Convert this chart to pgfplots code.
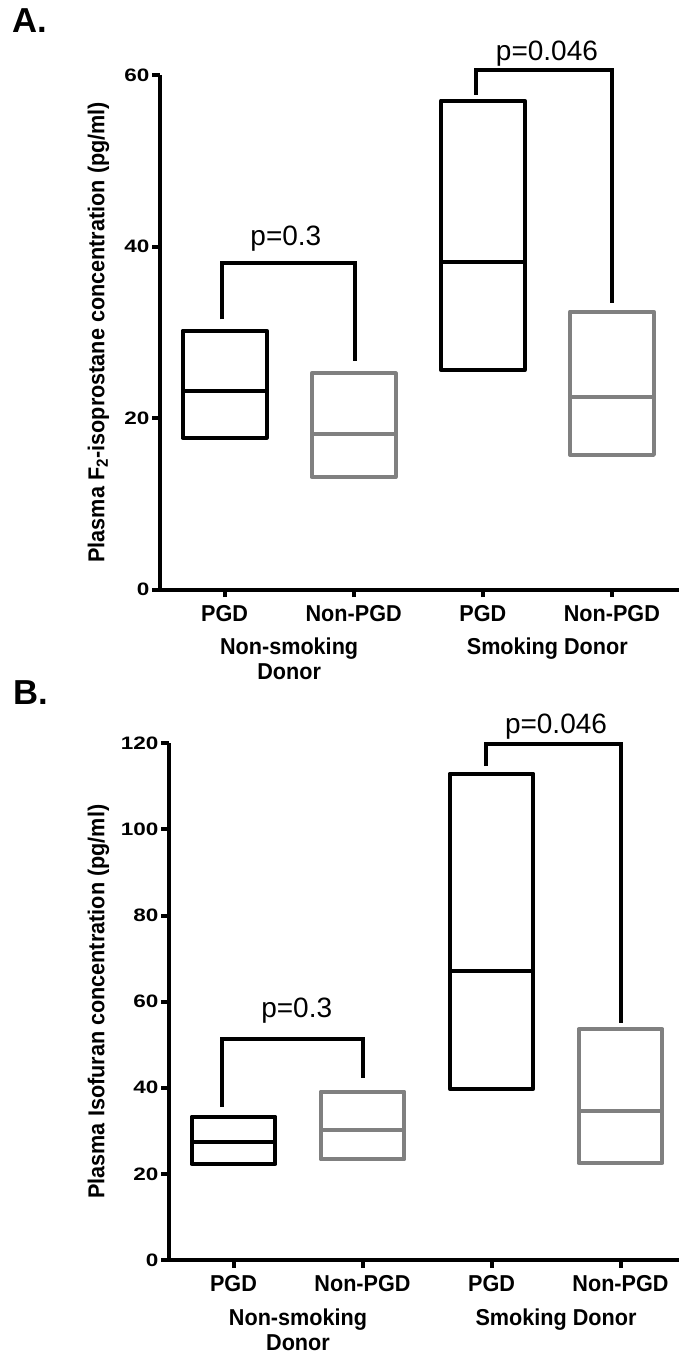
\documentclass[border=0pt]{standalone}
\usepackage{fontspec}
\setmainfont{Liberation Sans}
\newfontfamily\narrowsans{Liberation Sans}[FakeStretch=0.94]
\newfontfamily\widesans{Liberation Sans}[FakeStretch=1.25]
\usepackage{pgfplots}
\pgfplotsset{compat=1.18}

\newcommand\catfont{\narrowsans\bfseries\fontsize{17.25}{18.75}\selectfont}
\newcommand\tickfont{\widesans\bfseries\fontsize{13.5}{15}\selectfont}
\newcommand\pfont{\fontsize{21}{24}\selectfont}
\newcommand\panelfont{\bfseries\fontsize{26}{30}\selectfont}

\pgfplotsset{
  panel/.style={
    scale only axis, clip=false,
    axis x line*=bottom, axis y line*=left,
    axis line style={line width=3pt, -},
    every tick/.style={black, line width=3pt},
    tick align=outside, major tick length=5.7pt,
    xmin=0.5, ymin=0,
    xtick={1,2,3,4}, xticklabels={PGD,Non-PGD,PGD,Non-PGD},
    xticklabel style={font=\catfont, inner sep=0pt, anchor=north, yshift=-6pt},
    yticklabel style={font=\tickfont, inner sep=0pt, anchor=east, xshift=-2pt},
    /pgf/number format/assume math mode=true,
  },
  blackbox/.style={draw=black, line width=3pt, line join=round, mark=none},
  greybox/.style={draw=gray, line width=3pt, line join=round, mark=none},
  bracket/.style={black, line width=3pt, line join=miter, mark=none},
}

\begin{document}
\begin{tikzpicture}
\useasboundingbox (0,0) rectangle (509.25pt,-1016.25pt);

% ---------- A: F2-isoprostanes
\begin{axis}[panel,
  at={(120pt,-442.125pt)}, anchor=south west,
  width=389.25pt, height=385.875pt,
  xmax=4.52, ymax=60, ytick={0,20,40,60},
  ylabel={Plasma F\textsubscript{2}-isoprostane concentration (pg/ml)},
  every axis y label/.style={at={([xshift=-46.1pt]rel axis cs:0,0.5)}, rotate=90, anchor=center, font=\catfont},
]
% boxes: min, median, max
\addplot[blackbox] coordinates {(1,17.7) (1.325,17.7) (1.325,30.2) (0.675,30.2) (0.675,17.7) (1,17.7)};
\addplot[blackbox] coordinates {(0.675,23.1) (1.325,23.1)};
\addplot[greybox] coordinates {(2,13.1) (2.325,13.1) (2.325,25.2) (1.675,25.2) (1.675,13.1) (2,13.1)};
\addplot[greybox] coordinates {(1.675,18.1) (2.325,18.1)};
\addplot[blackbox] coordinates {(3,25.6) (3.325,25.6) (3.325,57.0) (2.675,57.0) (2.675,25.6) (3,25.6)};
\addplot[blackbox] coordinates {(2.675,38.2) (3.325,38.2)};
\addplot[greybox] coordinates {(4,15.7) (4.325,15.7) (4.325,32.4) (3.675,32.4) (3.675,15.7) (4,15.7)};
\addplot[greybox] coordinates {(3.675,22.4) (4.325,22.4)};

\addplot[bracket] coordinates {(0.98,31.5) (0.98,38.1) (2.01,38.1) (2.01,26.6)};
\addplot[bracket] coordinates {(2.95,57.7) (2.95,60.6) (4.0,60.6) (4.0,33.4)};

\node[font=\pfont, anchor=base, inner sep=0pt] at (axis cs:1.475,40.15) {p=0.3};
\node[font=\pfont, anchor=base, inner sep=0pt] at (axis cs:3.497,61.7) {p=0.046};

\node[font=\catfont, align=center, anchor=north, inner sep=0pt] at ([yshift=-36.2pt]axis cs:1.5,0) {Non-smoking\\Donor};
\node[font=\catfont, align=center, anchor=north, inner sep=0pt] at ([yshift=-36.2pt]axis cs:3.5,0) {Smoking Donor};
\end{axis}

% ---------- B: isofurans
\begin{axis}[panel,
  at={(126.75pt,-945pt)}, anchor=south west,
  width=382.16pt, height=387.5pt,
  xmax=4.45, ymax=120, ytick={0,20,40,60,80,100,120},
  ylabel={Plasma Isofuran concentration (pg/ml)},
  every axis y label/.style={at={([xshift=-52.9pt]rel axis cs:0,0.5)}, rotate=90, anchor=center, font=\catfont},
]
\addplot[blackbox] coordinates {(1,22.3) (1.325,22.3) (1.325,33.3) (0.675,33.3) (0.675,22.3) (1,22.3)};
\addplot[blackbox] coordinates {(0.675,27.3) (1.325,27.3)};
\addplot[greybox] coordinates {(2,23.4) (2.325,23.4) (2.325,39.1) (1.675,39.1) (1.675,23.4) (2,23.4)};
\addplot[greybox] coordinates {(1.675,30.2) (2.325,30.2)};
\addplot[blackbox] coordinates {(3,39.8) (3.325,39.8) (3.325,112.95) (2.675,112.95) (2.675,39.8) (3,39.8)};
\addplot[blackbox] coordinates {(2.675,67.05) (3.325,67.05)};
\addplot[greybox] coordinates {(4,22.5) (4.325,22.5) (4.325,53.6) (3.675,53.6) (3.675,22.5) (4,22.5)};
\addplot[greybox] coordinates {(3.675,34.65) (4.325,34.65)};

\addplot[bracket] coordinates {(0.91,35.5) (0.91,51.4) (2.0,51.4) (2.0,42.3)};
\addplot[bracket] coordinates {(2.96,114.7) (2.96,119.8) (4.0,119.8) (4.0,55.0)};

\node[font=\pfont, anchor=base, inner sep=0pt] at (axis cs:1.49,56.4) {p=0.3};
\node[font=\pfont, anchor=base, inner sep=0pt] at (axis cs:3.50,122.3) {p=0.046};

\node[font=\catfont, align=center, anchor=north, inner sep=0pt] at ([yshift=-36.2pt]axis cs:1.5,0) {Non-smoking\\Donor};
\node[font=\catfont, align=center, anchor=north, inner sep=0pt] at ([yshift=-36.2pt]axis cs:3.5,0) {Smoking Donor};
\end{axis}

\node[font=\panelfont, anchor=base west, inner sep=0pt] at (9.5pt,-24.2pt) {A.};
\node[font=\panelfont, anchor=base west, inner sep=0pt] at (10pt,-528pt) {B.};
\end{tikzpicture}
\end{document}
